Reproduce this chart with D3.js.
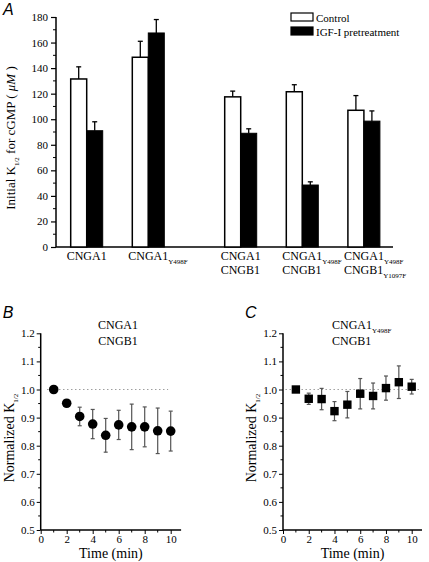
<!DOCTYPE html>
<html><head><meta charset="utf-8">
<script src="https://cdn.jsdelivr.net/npm/d3@7"></script>
<style>
body{margin:0;background:#fff}
svg{display:block}
text{font-family:"Liberation Serif","Times New Roman",serif;fill:#000}
.plab{font-family:"Liberation Sans",Arial,sans-serif;font-style:italic;font-size:16px}
</style></head><body>
<svg id="c" width="429" height="562"></svg>
<script>
// ---------- Panel A data ----------
const labelLine1 = ["CNGA1","CNGA1","CNGA1","CNGA1","CNGA1"];
const labelSub1  = ["","Y498F","","Y498F","Y498F"];
const labelLine2 = ["","","CNGB1","CNGB1","CNGB1"];
const labelSub2  = ["","","","","Y1097F"];
const controlVals = [131.5,148.5,117.5,121.5,107];
const controlErr  = [9.5,12.5,4.5,5.5,11.5];
const igfVals     = [91,167.5,89,48.5,98.5];
const igfErr      = [7,10.5,3.5,2.5,8];
const yTicksA = [0,20,40,60,80,100,120,140,160,180];
const legendLabels = ["Control","IGF-I pretreatment"];

// ---------- Panel B/C data ----------
const times = [1,2,3,4,5,6,7,8,9,10];
const bVals = [1.0,0.951,0.904,0.877,0.837,0.874,0.867,0.867,0.853,0.852];
const bErr  = [0,0.006,0.033,0.052,0.06,0.052,0.081,0.071,0.081,0.071];
const cVals = [1.0,0.967,0.966,0.923,0.946,0.985,0.977,1.005,1.026,1.01];
const cErr  = [0,0.02,0.038,0.034,0.047,0.054,0.046,0.043,0.058,0.026];
const yTicksBC = [0.5,0.6,0.7,0.8,0.9,1.0,1.1,1.2];
const xTicksBC = [0,2,4,6,8,10];

const svg = d3.select("#c");

// ================= Panel A =================
const yA = d3.scaleLinear().domain([0,180]).range([247,17]);
const slot = i => i + (i>=2 ? 0.5 : 0);
const xA = d3.scaleLinear().domain([0,4.5]).range([86.7,363.9]);
const bw = 16;
const gA = svg.append("g");

const axA = d3.axisLeft(yA).tickValues(yTicksA).tickSize(5).tickPadding(3).tickFormat(d3.format("d"));
const gyA = gA.append("g").attr("transform","translate(56,0)").call(axA);
gyA.attr("font-family",null);
gyA.select(".domain").remove();
gyA.selectAll("line").attr("stroke","#000").attr("stroke-width",1.2);
gyA.selectAll("text").attr("font-size",11).style("font-family","'Liberation Serif', serif");
gA.append("line").attr("x1",56).attr("x2",56).attr("y1",yA(0)).attr("y2",yA(180)).attr("stroke","#000").attr("stroke-width",1.5);
gA.selectAll(".mnA").data(d3.range(10,180,20)).join("line")
  .attr("x1",56).attr("x2",53).attr("y1",d=>yA(d)).attr("y2",d=>yA(d)).attr("stroke","#000").attr("stroke-width",1);
gA.append("line").attr("x1",56).attr("x2",393).attr("y1",yA(0)).attr("y2",yA(0)).attr("stroke","#000").attr("stroke-width",1.5);

controlVals.forEach((v,i)=>{
  const cx = xA(slot(i));
  gA.append("rect").attr("x",cx-bw).attr("y",yA(v)).attr("width",bw).attr("height",yA(0)-yA(v))
    .attr("fill","#fff").attr("stroke","#000").attr("stroke-width",1.5);
  const ex = cx-bw/2;
  gA.append("line").attr("x1",ex).attr("x2",ex).attr("y1",yA(v)).attr("y2",yA(v+controlErr[i])).attr("stroke","#000").attr("stroke-width",1.3);
  gA.append("line").attr("x1",ex-2.5).attr("x2",ex+2.5).attr("y1",yA(v+controlErr[i])).attr("y2",yA(v+controlErr[i])).attr("stroke","#000").attr("stroke-width",1.3);
});
igfVals.forEach((v,i)=>{
  const cx = xA(slot(i));
  gA.append("rect").attr("x",cx).attr("y",yA(v)).attr("width",bw).attr("height",yA(0)-yA(v))
    .attr("fill","#000").attr("stroke","#000").attr("stroke-width",1);
  const ex = cx+bw/2;
  gA.append("line").attr("x1",ex).attr("x2",ex).attr("y1",yA(v)).attr("y2",yA(v+igfErr[i])).attr("stroke","#000").attr("stroke-width",1.3);
  gA.append("line").attr("x1",ex-2.5).attr("x2",ex+2.5).attr("y1",yA(v+igfErr[i])).attr("y2",yA(v+igfErr[i])).attr("stroke","#000").attr("stroke-width",1.3);
});

labelLine1.forEach((t,i)=>{
  const cx = xA(slot(i));
  const probe = gA.append("text").attr("font-size",12).text(t);
  const w = probe.node().getComputedTextLength(); probe.remove();
  const x0 = cx - w/2;
  const t1 = gA.append("text").attr("x",x0).attr("y",260).attr("font-size",12);
  t1.append("tspan").text(t);
  if(labelSub1[i]) t1.append("tspan").attr("dy",4).attr("font-size",7).text(labelSub1[i]);
  if(labelLine2[i]){
    const t2 = gA.append("text").attr("x",x0).attr("y",274).attr("font-size",12);
    t2.append("tspan").text(labelLine2[i]);
    if(labelSub2[i]) t2.append("tspan").attr("dy",4).attr("font-size",7).text(labelSub2[i]);
  }
});

const ytA = gA.append("text").attr("transform","translate(15,138) rotate(-90)").attr("text-anchor","middle").attr("font-size",13);
ytA.append("tspan").text("Initial K");
ytA.append("tspan").attr("dy",4).attr("font-size",7).text("1/2");
ytA.append("tspan").attr("dy",-4).text("   for cGMP (  ");
ytA.append("tspan").attr("font-style","italic").text("μM");
ytA.append("tspan").text("  )");

const lg = gA.append("g");
legendLabels.forEach((t,i)=>{
  lg.append("rect").attr("x",291).attr("y",13+i*14).attr("width",22).attr("height",8)
    .attr("fill",i===0?"#fff":"#000").attr("stroke","#000").attr("stroke-width",1.2);
  lg.append("text").attr("x",316).attr("y",21.5+i*14).attr("font-size",11).text(t);
});
svg.append("text").attr("class","plab").attr("x",3).attr("y",15).text("A");

// ================= Panels B & C =================
function timePanel(x0, vals, errs, marker, letter, title1, title1sub, title2, titleX, titleAnchor, refFrom, refTo, pxPerMin){
  const g = svg.append("g");
  const x = d3.scaleLinear().domain([0,10.8]).range([x0, x0+10.8*pxPerMin]);
  const y = d3.scaleLinear().domain([0.5,1.2]).range([530,333.3]);
  const gy = g.append("g").attr("transform",`translate(${x0},0)`)
    .call(d3.axisLeft(y).tickValues(yTicksBC).tickSize(4).tickPadding(2).tickFormat(d3.format(".1f")));
  gy.attr("font-family",null);
  gy.select(".domain").remove();
  gy.selectAll("text").attr("font-size",11).style("font-family","'Liberation Serif', serif");
  g.selectAll(".mny").data(d3.range(0.55,1.2,0.1)).join("line")
    .attr("x1",x0).attr("x2",x0-2.5).attr("y1",d=>y(d)).attr("y2",d=>y(d)).attr("stroke","#000");
  g.append("line").attr("x1",x0).attr("x2",x0).attr("y1",y(0.5)).attr("y2",y(1.2)).attr("stroke","#000").attr("stroke-width",1.5);
  const gx = g.append("g").attr("transform",`translate(0,${y(0.5)})`)
    .call(d3.axisBottom(x).tickValues(xTicksBC).tickSize(4).tickPadding(1).tickFormat(d3.format("d")));
  gx.attr("font-family",null);
  gx.select(".domain").remove();
  gx.selectAll("text").attr("font-size",11).style("font-family","'Liberation Serif', serif");
  g.selectAll(".mnx").data([1,3,5,7,9]).join("line")
    .attr("x1",d=>x(d)).attr("x2",d=>x(d)).attr("y1",y(0.5)).attr("y2",y(0.5)+2.5).attr("stroke","#000");
  g.append("line").attr("x1",x0).attr("x2",x(10.8)).attr("y1",y(0.5)).attr("y2",y(0.5)).attr("stroke","#000").attr("stroke-width",1.5);
  g.append("line").attr("x1",x(refFrom)).attr("x2",x(refTo)).attr("y1",y(1)).attr("y2",y(1))
    .attr("stroke","#888").attr("stroke-width",1).attr("stroke-dasharray","1.2,2.8");
  times.forEach((t,i)=>{
    if(!errs[i]) return;
    const cx = x(t);
    g.append("line").attr("x1",cx).attr("x2",cx).attr("y1",y(vals[i]-errs[i])).attr("y2",y(vals[i]+errs[i])).attr("stroke","#555").attr("stroke-width",1.2);
    [vals[i]-errs[i], vals[i]+errs[i]].forEach(e=>{
      g.append("line").attr("x1",cx-2).attr("x2",cx+2).attr("y1",y(e)).attr("y2",y(e)).attr("stroke","#555").attr("stroke-width",1.2);
    });
  });
  times.forEach((t,i)=>{
    if(marker==="circle") g.append("circle").attr("cx",x(t)).attr("cy",y(vals[i])).attr("r",4.8).attr("fill","#000");
    else g.append("rect").attr("x",x(t)-4.2).attr("y",y(vals[i])-4.2).attr("width",8.4).attr("height",8.4).attr("fill","#000");
  });
  const t1 = g.append("text").attr("x",titleX).attr("y",329).attr("font-size",12).attr("text-anchor",titleAnchor);
  t1.append("tspan").text(title1);
  if(title1sub) t1.append("tspan").attr("dy",4).attr("font-size",7).text(title1sub);
  g.append("text").attr("x",titleX).attr("y",345).attr("font-size",12).attr("text-anchor",titleAnchor).text(title2);
  g.append("text").attr("x",(x(0)+x(10.8))/2).attr("y",558).attr("text-anchor","middle").attr("font-size",14).text("Time (min)");
  const yt = g.append("text").attr("transform",`translate(${x0-27},438) rotate(-90)`).attr("text-anchor","middle").attr("font-size",14);
  yt.append("tspan").text("Normalized K");
  yt.append("tspan").attr("dy",4).attr("font-size",7).text("1/2");
  svg.append("text").attr("class","plab").attr("x",x0-38).attr("y",318).text(letter);
}
timePanel(40.7, bVals, bErr, "circle", "B", "CNGA1", "", "CNGB1", 118, "middle", 0.5, 9.8, 13);
timePanel(283, cVals, cErr, "square", "C", "CNGA1", "Y498F", "CNGB1", 332, "start", 0.2, 10.6, 12.87);
</script>
</body></html>
